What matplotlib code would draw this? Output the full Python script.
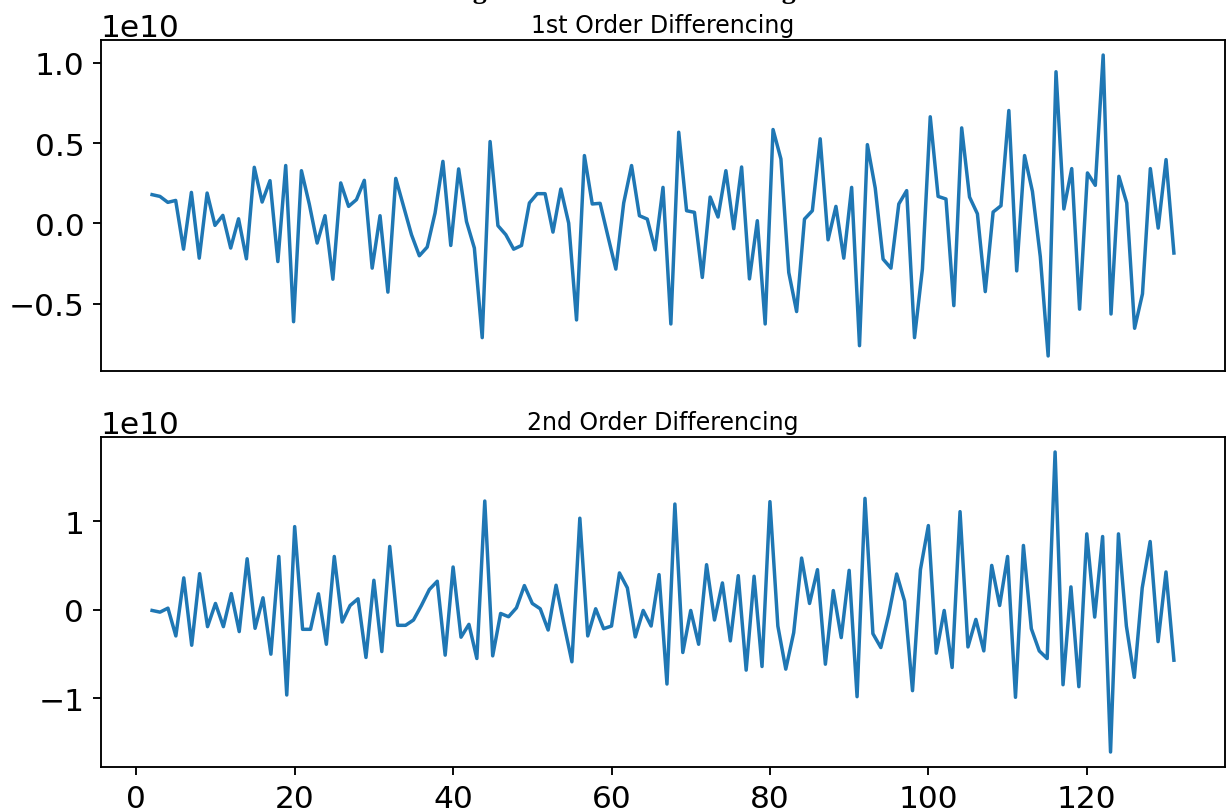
import numpy as np
import matplotlib.pyplot as plt

# values, in units of 1e10
first_x = np.arange(1, 132)
first_diff = np.array([
    0.179, 0.168, 0.131, 0.143, -0.160, 0.193, -0.216, 0.189, -0.012, 0.050,
    -0.153, 0.029, -0.220, 0.349, 0.133, 0.266, -0.237, 0.360, -0.611, 0.328,
    0.120, -0.122, 0.048, -0.347, 0.252, 0.106, 0.148, 0.268, -0.278, 0.048,
    -0.427, 0.280, 0.106, -0.070, -0.201, -0.147, 0.065, 0.386, -0.137, 0.339,
    0.012, -0.153, -0.710, 0.509, -0.014, -0.070, -0.160, -0.137, 0.127, 0.185,
    0.185, -0.054, 0.214, 0.002, -0.600, 0.422, 0.121, 0.125, -0.081, -0.284,
    0.127, 0.360, 0.048, 0.027, -0.164, 0.224, -0.625, 0.567, 0.079, 0.069,
    -0.336, 0.164, 0.040, 0.328, -0.033, 0.351, -0.345, 0.017, -0.625, 0.584,
    0.401, -0.305, -0.548, 0.027, 0.079, 0.526, -0.102, 0.106, -0.216, 0.224,
    -0.760, 0.490, 0.220, -0.222, -0.278, 0.121, 0.204, -0.710, -0.284, 0.663,
    0.168, 0.152, -0.511, 0.594, 0.164, 0.060, -0.424, 0.071, 0.110, 0.702,
    -0.295, 0.422, 0.199, -0.206, -0.824, 0.943, 0.090, 0.341, -0.533, 0.314,
    0.237, 1.047, -0.563, 0.293, 0.127, -0.652, -0.438, 0.341, -0.029, 0.397,
    -0.184,
]) * 1e10

second_x = np.arange(2, 132)
second_diff = np.array([
    -0.008, -0.027, 0.018, -0.296, 0.360, -0.401, 0.408, -0.191, 0.071, -0.191,
    0.183, -0.247, 0.576, -0.210, 0.135, -0.502, 0.602, -0.963, 0.939, -0.221,
    -0.221, 0.180, -0.390, 0.602, -0.139, 0.048, 0.124, -0.539, 0.333, -0.472,
    0.715, -0.176, -0.176, -0.116, 0.048, 0.228, 0.322, -0.513, 0.483, -0.310,
    -0.165, -0.551, 1.228, -0.521, -0.042, -0.079, 0.022, 0.273, 0.071, 0.011,
    -0.229, 0.277, -0.165, -0.588, 1.034, -0.296, 0.011, -0.214, -0.184, 0.416,
    0.247, -0.307, -0.008, -0.184, 0.397, -0.839, 1.194, -0.483, -0.008, -0.390,
    0.509, -0.116, 0.303, -0.352, 0.385, -0.682, 0.378, -0.641, 1.221, -0.184,
    -0.671, -0.259, 0.584, 0.071, 0.453, -0.615, 0.217, -0.315, 0.445, -0.982,
    1.258, -0.270, -0.427, -0.053, 0.404, 0.097, -0.914, 0.453, 0.951, -0.491,
    -0.008, -0.652, 1.108, -0.420, -0.109, -0.465, 0.501, 0.048, 0.602, -0.989,
    0.726, -0.214, -0.465, -0.551, 1.782, -0.847, 0.258, -0.869, 0.857, -0.083,
    0.827, -1.607, 0.857, -0.184, -0.764, 0.247, 0.771, -0.360, 0.427, -0.570,
]) * 1e10

W, H = 1227, 812
plt.rcParams.update({
    "axes.linewidth": 1.35,
    "xtick.major.size": 6,
    "ytick.major.size": 6,
    "xtick.major.width": 1.35,
    "ytick.major.width": 1.35,
    "xtick.major.pad": 6,
    "ytick.major.pad": 6,
    "xtick.labelsize": 22.5,
    "ytick.labelsize": 22.5,
})

fig = plt.figure(figsize=(W / 100, H / 100), dpi=100)
ax1 = fig.add_axes([101 / W, 1 - 372 / H, 1124 / W, 331 / H])
ax2 = fig.add_axes([101 / W, 1 - 768 / H, 1124 / W, 330 / H])

ax1.plot(first_x, first_diff, color="#1f77b4", lw=2.5)
ax1.set_title("1st Order Differencing", fontsize=17)
ax1.set_xticks([])
ax1.set_yticks([-0.5e10, 0, 0.5e10, 1.0e10])

ax2.plot(second_x, second_diff, color="#1f77b4", lw=2.5)
ax2.set_title("2nd Order Differencing", fontsize=17)
ax2.set_xticks([0, 20, 40, 60, 80, 100, 120])
ax2.set_yticks([-1e10, 0, 1e10])

for ax in (ax1, ax2):
    ax.yaxis.get_offset_text().set_fontsize(22.5)

# suptitle sits mostly above the saved area, only its descenders show
fig.text(0.5, 1 + 2 / H, "Original Series vs Differencing", ha="center",
         va="baseline", fontsize=20, fontweight="bold", family="Liberation Serif")

fig.savefig("out.png", dpi=100)
